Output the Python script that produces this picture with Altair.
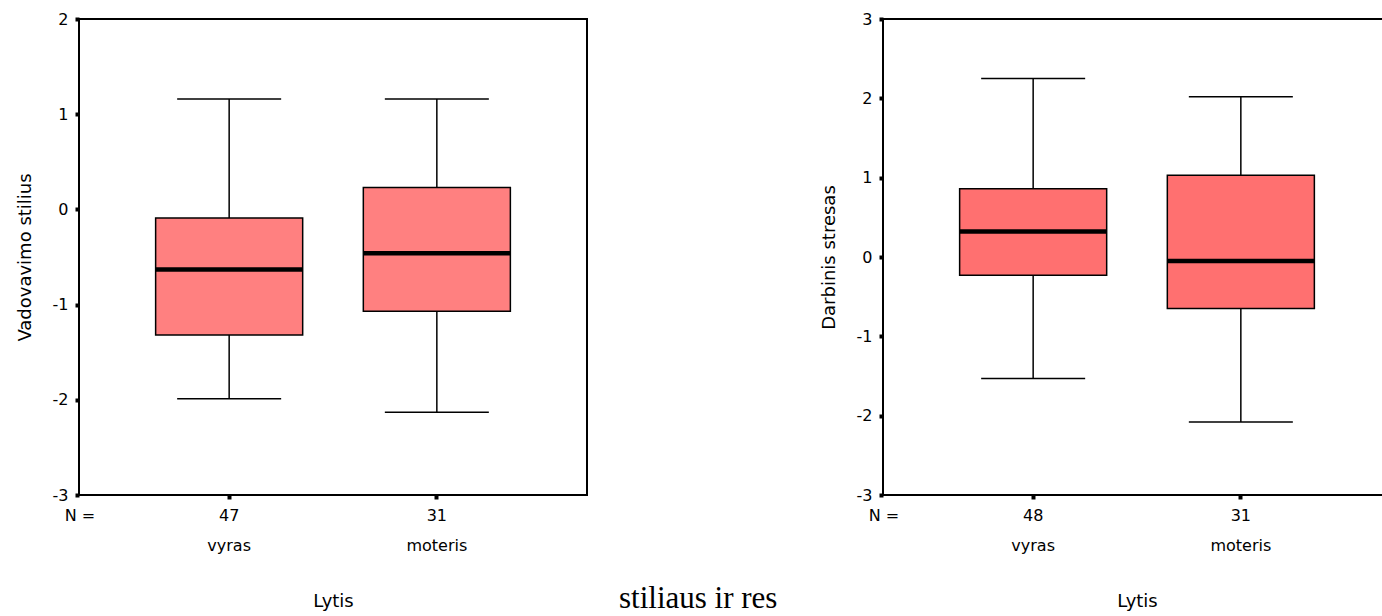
import altair as alt
import pandas as pd

groups = ["vyras", "moteris"]

# Panel 1: Vadovavimo stilius
n_1 = [47, 31]
low_1 = [-1.99, -2.13]
q1_1 = [-1.32, -1.07]
med_1 = [-0.63, -0.46]
q3_1 = [-0.09, 0.23]
high_1 = [1.16, 1.16]
yticks_1 = [-3, -2, -1, 0, 1, 2]

# Panel 2: Darbinis stresas
n_2 = [48, 31]
low_2 = [-1.53, -2.08]
q1_2 = [-0.23, -0.65]
med_2 = [0.32, -0.05]
q3_2 = [0.86, 1.03]
high_2 = [2.25, 2.02]
yticks_2 = [-3, -2, -1, 0, 1, 2, 3]

W, H = 508, 476
FONT = "DejaVu Sans"


def panel(n, low, q1, med, q3, high, ticks, ytitle, fill, extra_text=None):
    df = pd.DataFrame({"g": groups, "n": n, "low": low, "q1": q1,
                       "med": med, "q3": q3, "high": high})
    base = alt.Chart(df)
    xax = alt.Axis(title="Lytis", labelAngle=0, labelPadding=51,
                   labelBaseline="alphabetic", titleY=111.6,
                   titleBaseline="alphabetic")
    x = alt.X("g:N", sort=groups,
              scale=alt.Scale(domain=groups, paddingInner=0.292, paddingOuter=0.369),
              axis=xax)
    ysc = alt.Scale(domain=[ticks[0], ticks[-1]], nice=False, zero=False)
    yax = alt.Axis(values=ticks, title=ytitle, titleX=-49,
                   titleBaseline="alphabetic", labelPadding=7,
                   labelExpr="'' + datum.value")

    def Y(f):
        return alt.Y(f, type="quantitative", scale=ysc, axis=yax)

    w_lo = base.mark_rule(color="black", strokeWidth=1.5, opacity=1).encode(
        x=x, y=Y("low"), y2="q1:Q")
    w_hi = base.mark_rule(color="black", strokeWidth=1.5, opacity=1).encode(
        x=x, y=Y("q3"), y2="high:Q")
    c_lo = base.mark_tick(color="black", size=104, thickness=1.5, opacity=1).encode(
        x=x, y=Y("low"))
    c_hi = base.mark_tick(color="black", size=104, thickness=1.5, opacity=1).encode(
        x=x, y=Y("high"))
    box = base.mark_bar(fill=fill, stroke="black", strokeWidth=1.5, opacity=1).encode(
        x=x, y=Y("q1"), y2="q3:Q")
    md = base.mark_tick(color="black", size=147, thickness=4.5, opacity=1).encode(
        x=x, y=Y("med"))
    counts = base.mark_text(font=FONT, fontSize=16, color="black",
                            baseline="alphabetic", align="center").encode(
        x=x, y=alt.value(502), text="n:Q")
    nlab = alt.Chart(pd.DataFrame({"t": ["N ="]})).mark_text(
        font=FONT, fontSize=16, color="black", baseline="alphabetic",
        align="center").encode(x=alt.value(1), y=alt.value(502), text="t:N")
    layers = [w_lo, w_hi, c_lo, c_hi, box, md, counts, nlab]
    if extra_text is not None:
        layers.append(alt.Chart(pd.DataFrame({"t": [extra_text]})).mark_text(
            font="Liberation Serif", fontSize=31, color="black",
            baseline="alphabetic", align="left").encode(
            x=alt.value(540), y=alt.value(589), text="t:N"))
    return alt.layer(*layers).properties(width=W, height=H)


left = panel(n_1, low_1, q1_1, med_1, q3_1, high_1, yticks_1,
             "Vadovavimo stilius", "#FF8080", extra_text="stiliaus ir res")
right = panel(n_2, low_2, q1_2, med_2, q3_2, high_2, yticks_2,
              "Darbinis stresas", "#FF7070")

chart = alt.hconcat(left, right, spacing=296, bounds="flush").properties(
    autosize=alt.AutoSizeParams(type="none"),
    padding={"left": 79, "top": 19, "right": 1303, "bottom": 597},
    background="white",
).configure_view(stroke="black", strokeWidth=2).configure_axis(
    domain=False, grid=False, tickColor="black", tickSize=4, tickWidth=4,
    labelFont=FONT, labelFontSize=16, labelColor="black",
    titleFont=FONT, titleFontSize=18, titleFontWeight="normal", titleColor="black",
)

chart.save("out.html", embed_options={"renderer": "svg", "actions": False})
